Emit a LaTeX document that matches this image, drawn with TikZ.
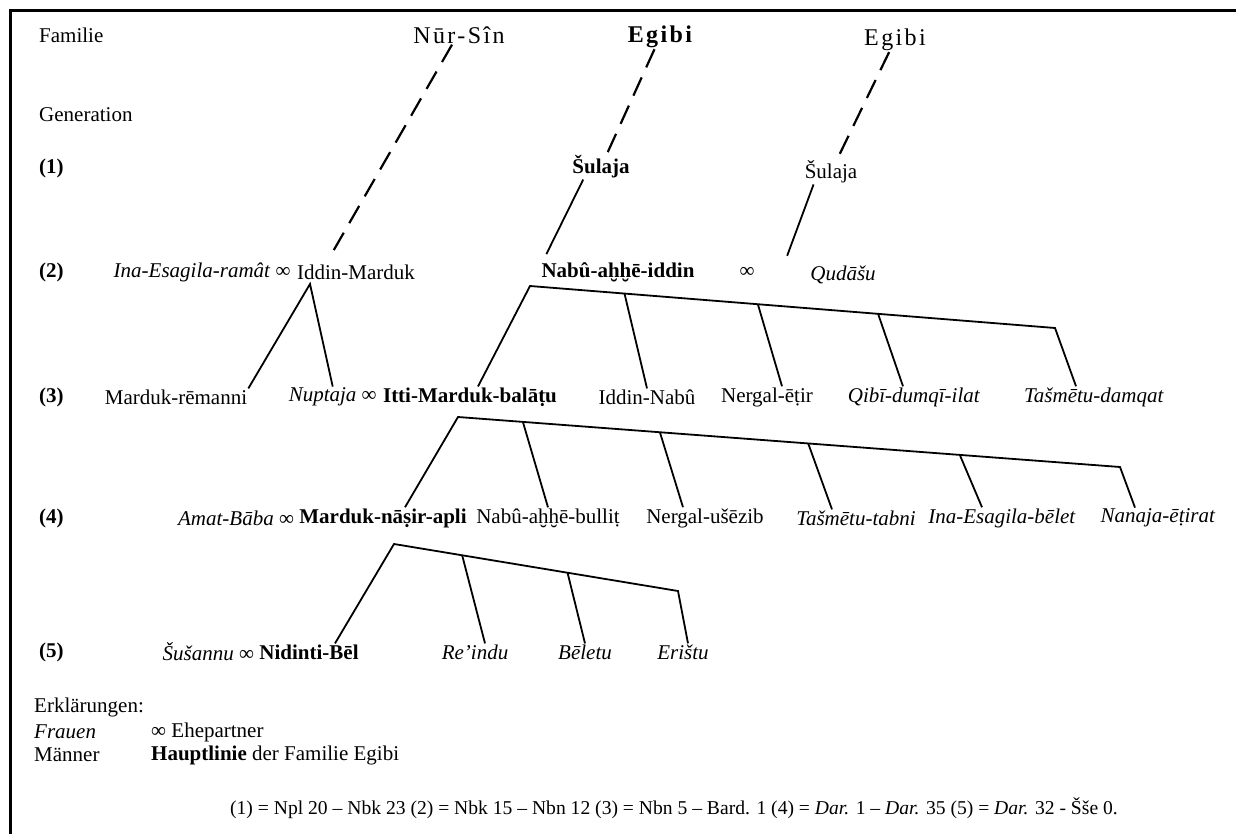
\documentclass[tikz,border=0pt]{standalone}
\usepackage{fontspec}
\setmainfont{Liberation Serif}
\newfontfamily\sperr[LetterSpace=10]{Liberation Serif}
\usetikzlibrary{calc,positioning}

\begin{document}
\begin{tikzpicture}[x=1pt,y=-1pt,
        every node/.style={font=\fontsize{21}{25}\selectfont, inner sep=1pt},
        fam/.style={font=\fontsize{24}{28}\selectfont\sperr},
        lab/.style={anchor=west},
        kid/.style={line width=1.8pt},
        ahne/.style={line width=2.2pt, dash pattern=on 20pt off 11pt}]

        \useasboundingbox (0,0) rectangle (1236,834);
        \draw[line width=3pt] (1236,11) -- (10,11) -- (10,834);

        %Spalte links
        \node[lab] (familie) at (38,35) {Familie};
        \node[lab] (generation) at (38,115) {Generation};
        \foreach \g/\y in {1/168,2/272,3/397,4/518,5/652}
            \node[lab] (g\g) at (38,\y) {\textbf{(\g)}};

        %Familien
        \node[fam] (nursin) at (459,35) {Nūr-Sîn};
        \node[fam] (egibi) at (660,37) {\bfseries Egibi};
        \node[fam] (egibizwei) at (895,40) {Egibi};

        %(1)
        \node (sulaja) at (601,167) {\textbf{Šulaja}};
        \node (sulajazwei) at (831,172) {Šulaja};

        %(2)
        \node (iddmar) at (356,272) {Iddin-Marduk};
        \node[left=4pt of iddmar] (inaram) {\textit{Ina-Esagila-ramât} ∞};
        \node (nabahh) at (618,272) {\textbf{Nabû-aḫḫē-iddin}};
        \node (ehe) at (747,272) {∞};
        \node (qudasu) at (843,275) {\textit{Qudāšu}};

        %(3)
        \node (marrem) at (176,397) {Marduk-rēmanni};
        \node (ittmar) at (470,397) {\textbf{Itti-Marduk-balāṭu}};
        \node[left=4pt of ittmar] (nuptaja) {\textit{Nuptaja} ∞};
        \node (iddnab) at (647,397) {Iddin-Nabû};
        \node (neretir) at (767,397) {Nergal-ēṭir};
        \node (qibi) at (914,397) {\textit{Qibī-dumqī-ilat}};
        \node (tasdam) at (1094,397) {\textit{Tašmētu-damqat}};

        %(4)
        \node (marnas) at (383,518) {\textbf{Marduk-nāṣir-apli}};
        \node[left=3pt of marnas] (amat) {\textit{Amat-Bāba} ∞};
        \node (nabbul) at (548,518) {Nabû-aḫḫē-bulliṭ};
        \node (nerusez) at (705,518) {Nergal-ušēzib};
        \node (tastab) at (856,518) {\textit{Tašmētu-tabni}};
        \node (inabel) at (1002,518) {\textit{Ina-Esagila-bēlet}};
        \node (nanaja) at (1158,518) {\textit{Nanaja-ēṭirat}};

        %(5)
        \node (nidbel) at (309,652) {\textbf{Nidinti-Bēl}};
        \node[left=3pt of nidbel] (susannu) {\textit{Šušannu} ∞};
        \node (reindu) at (475,652) {\textit{Re’indu}};
        \node (beletu) at (585,652) {\textit{Bēletu}};
        \node (eristu) at (683,652) {\textit{Erištu}};

        %Erklaerungen
        \node[lab] (erkl) at (33,707) {Erklärungen:};
        \node[lab] (frauen) at (33,732) {\textit{Frauen}};
        \node[lab] (maenner) at (33,755) {Männer};
        \node[lab] (ehepartner) at (150,732) {∞ Ehepartner};
        \node[lab] (haupt) at (150,755) {\textbf{Hauptlinie} der Familie Egibi};
        \node[font=\fontsize{19.6}{24}\selectfont] (belege) at (674,808) {(1) = Npl 20 – Nbk 23 (2) = Nbk 15 – Nbn 12 (3) = Nbn 5 – Bard. 1 (4) = \textit{Dar.} 1 – \textit{Dar.} 35 (5) = \textit{Dar.} 32 - Šše 0.};

        %Ahnen
        \draw[ahne] ([xshift=-7pt]nursin.south) -- ([xshift=-23pt,yshift=12pt]iddmar.north);
        \draw[ahne] (egibi) -- (sulaja);
        \draw[ahne] (egibizwei) -- (sulajazwei);
        \draw[kid] ([xshift=12pt]sulaja.south west) -- ([xshift=6pt,yshift=7pt]nabahh.north west);
        \draw[kid] ([xshift=10pt]sulajazwei.south west) -- ([xshift=-22pt,yshift=9pt]qudasu.north west);

        %Kinder von Iddin-Marduk
        \coordinate (spitze) at (310,284);
        \draw[kid] (marrem.north east) -- (spitze) -- (nuptaja.north);

        %Kinder von Nabu-ahhe-iddin
        \coordinate (n2l) at (530,286);
        \coordinate (n2r) at (1055,328);
        \draw[kid] ([xshift=8pt]ittmar.north) -- (n2l) -- (n2r) -- ([xshift=-18pt]tasdam.north);
        \draw[kid] ($(n2l)!0.18!(n2r)$) -- (iddnab.north);
        \draw[kid] ($(n2l)!0.434!(n2r)$) -- ([xshift=15pt]neretir.north);
        \draw[kid] ($(n2l)!0.663!(n2r)$) -- ([xshift=-11pt]qibi.north);

        %Kinder von Itti-Marduk-balatu
        \coordinate (n3l) at (458,417);
        \coordinate (n3r) at (1120,467);
        \draw[kid] ([xshift=22pt]marnas.north) -- (n3l) -- (n3r) -- ([xshift=-23pt]nanaja.north);
        \draw[kid] ($(n3l)!0.098!(n3r)$) -- (nabbul.north);
        \draw[kid] ($(n3l)!0.305!(n3r)$) -- ([xshift=-22pt]nerusez.north);
        \draw[kid] ($(n3l)!0.529!(n3r)$) -- ([xshift=-24pt]tastab.north);
        \draw[kid] ($(n3l)!0.758!(n3r)$) -- ([xshift=-20pt]inabel.north);

        %Kinder von Marduk-nasir-apli
        \coordinate (n4l) at (394,544);
        \coordinate (n4r) at (678,591);
        \draw[kid] ([xshift=26pt]nidbel.north) -- (n4l) -- (n4r) -- ([xshift=5pt]eristu.north);
        \draw[kid] ($(n4l)!0.24!(n4r)$) -- ([xshift=10pt]reindu.north);
        \draw[kid] ($(n4l)!0.611!(n4r)$) -- (beletu.north);
\end{tikzpicture}
\end{document}
